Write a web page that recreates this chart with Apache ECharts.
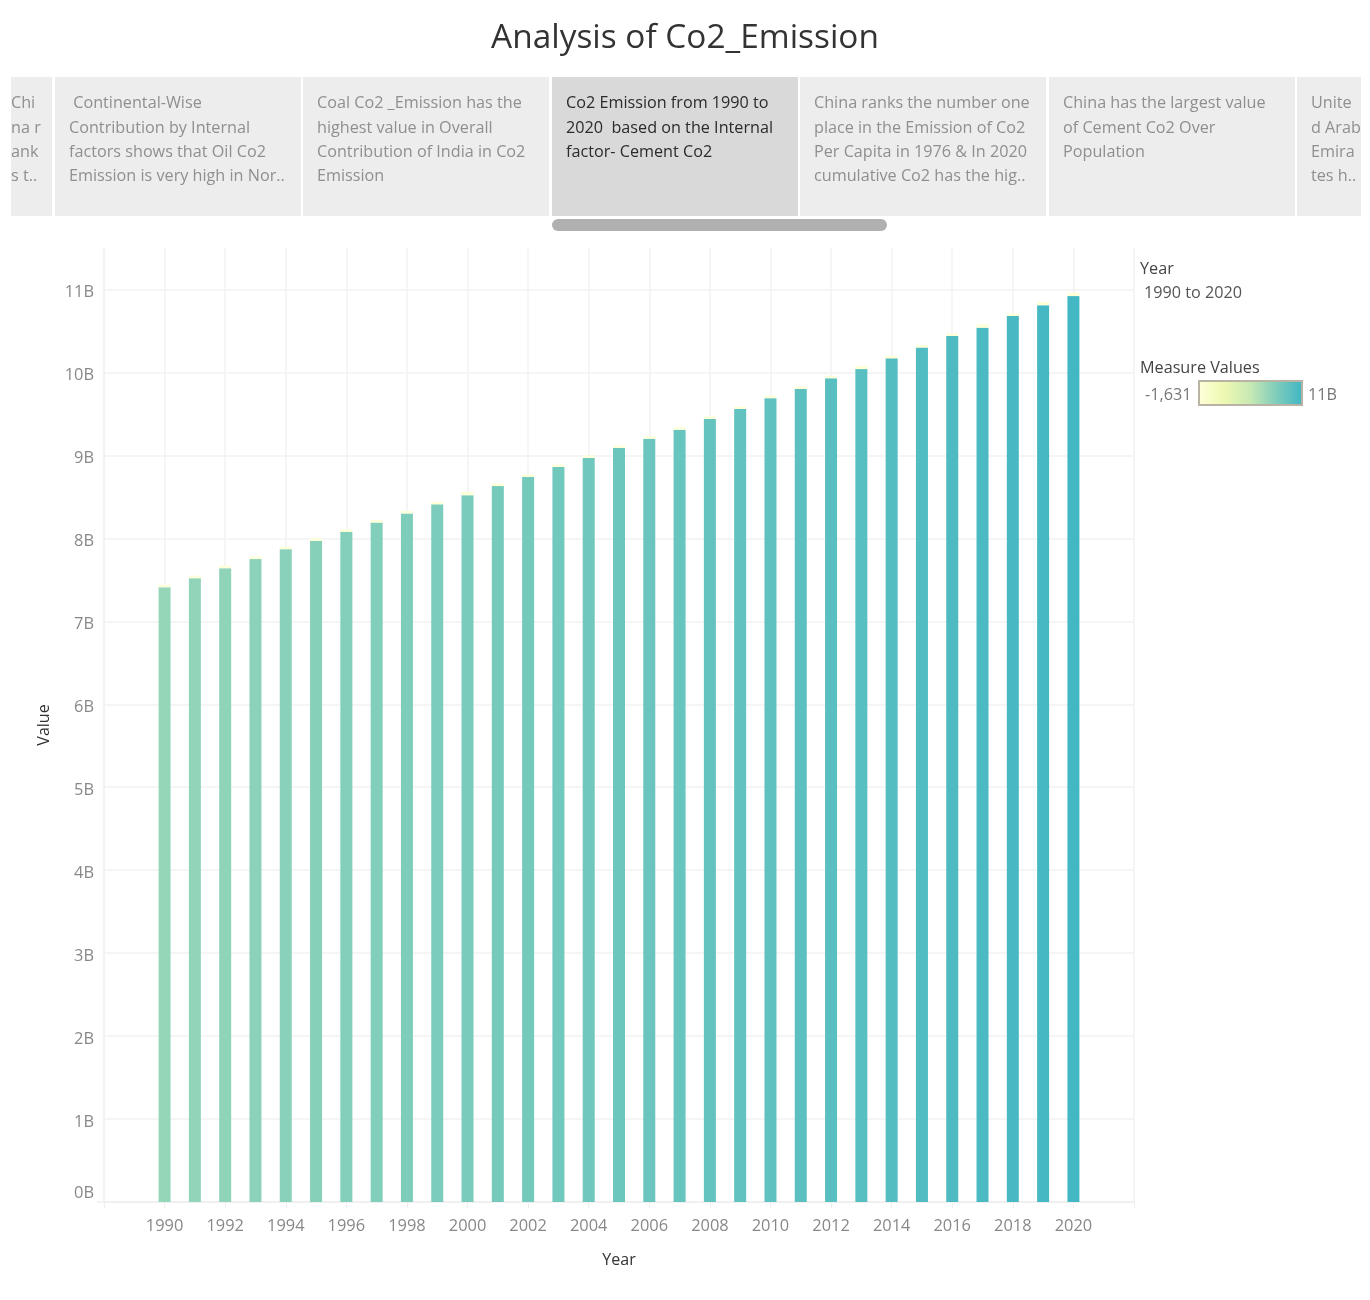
<!DOCTYPE html>
<html><head><meta charset="utf-8">
<style>html,body{margin:0;padding:0;background:#fff}#c{width:1370px;height:1300px}</style>
<script src="https://cdn.jsdelivr.net/npm/echarts@6/dist/echarts.min.js"></script>
</head><body><div id="c"></div>
<script>
const axisYears=[1988,1989,1990,1991,1992,1993,1994,1995,1996,1997,1998,1999,2000,2001,2002,2003,2004,2005,2006,2007,2008,2009,2010,2011,2012,2013,2014,2015,2016,2017,2018,2019,2020,2021,2022];
const years=[1990,1991,1992,1993,1994,1995,1996,1997,1998,1999,2000,2001,2002,2003,2004,2005,2006,2007,2008,2009,2010,2011,2012,2013,2014,2015,2016,2017,2018,2019,2020];
const mainValuesB=[7.41,7.52,7.64,7.75,7.87,7.97,8.08,8.19,8.30,8.41,8.52,8.63,8.74,8.86,8.97,9.09,9.20,9.31,9.44,9.56,9.69,9.80,9.93,10.04,10.17,10.30,10.44,10.54,10.68,10.81,10.92];
const cementValuesB=[.03,.03,.03,.03,.03,.03,.03,.03,.03,.03,.04,.03,.03,.03,.03,.03,.03,.03,.03,.03,.03,.03,.03,.04,.03,.03,.03,.04,.03,.04,.04];
const storyCards=[
 {x:11,w:41,tx:11,lines:["Chi","na r","ank","s t.."]},
 {x:55,w:246,tx:69,lines:[" Continental-Wise","Contribution by Internal","factors shows that Oil Co2","Emission is very high in Nor.."]},
 {x:303,w:246,tx:317,lines:["Coal Co2 _Emission has the","highest value in Overall","Contribution of India in Co2","Emission"]},
 {x:552,w:246,tx:566,sel:true,lines:["Co2 Emission from 1990 to","2020  based on the Internal","factor- Cement Co2"]},
 {x:800,w:246,tx:814,lines:["China ranks the number one","place in the Emission of Co2","Per Capita in 1976 & In 2020","cumulative Co2 has the hig.."]},
 {x:1049,w:246,tx:1063,lines:["China has the largest value","of Cement Co2 Over","Population"]},
 {x:1297,w:64,tx:1311,lines:["Unite","d Arab","Emira","tes h.."]}
];
const FONT='"Open Sans"';
const g=[];
storyCards.forEach(c=>{
 g.push({type:'rect',shape:{x:c.x,y:77,width:c.w,height:139},style:{fill:c.sel?'#d9d9d9':'#ededed'},silent:true});
 c.lines.forEach((t,i)=>g.push({type:'text',x:c.tx,y:103.5+i*24.4,style:{text:t,fill:c.sel?'#2b2b2b':'#8f8f8f',font:'16.2px '+FONT,verticalAlign:'middle'},silent:true}));
});
g.push({type:'rect',shape:{x:552,y:219,width:335,height:12,r:6},style:{fill:'#b0b0b0'},silent:true});
g.push({type:'line',shape:{x1:97,y1:1202,x2:104,y2:1202},style:{stroke:'#eeeeee',lineWidth:1.5},silent:true});
const side=[["Year",1140,269,'#444'],["1990 to 2020",1144,293,'#555'],["Measure Values",1140,368,'#444'],["-1,631",1145,395,'#777'],["11B",1308,395,'#777']];
side.forEach(s=>g.push({type:'text',x:s[1],y:s[2],style:{text:s[0],fill:s[3],font:'16.2px '+FONT,verticalAlign:'middle'},silent:true}));
g.push({type:'rect',z:100,shape:{x:1199,y:381,width:103,height:24},style:{fill:'none',stroke:'#b8b3a3',lineWidth:2},silent:true});
const chart=echarts.init(document.getElementById('c'),null,{renderer:'canvas'});
chart.setOption({
 animation:false,backgroundColor:'#fff',
 textStyle:{fontFamily:FONT},
 title:{text:'Analysis of Co2_Emission',left:'center',top:17,textStyle:{fontFamily:FONT,fontSize:33.4,fontWeight:'normal',color:'#333'}},
 grid:{left:104,top:248,width:1030,height:954},
 xAxis:{type:'category',data:axisYears.map(String),boundaryGap:false,name:'Year',nameLocation:'middle',nameGap:50,
  nameTextStyle:{color:'#333',fontSize:16,fontFamily:FONT},
  axisLine:{show:true,lineStyle:{color:'#f0f0f0',width:2}},
  axisTick:{show:true,length:6,interval:1,lineStyle:{color:'#eeeeee'}},
  axisLabel:{color:'#888',fontSize:16.4,margin:16,interval:1,formatter:v=>(v==='1988'||v==='2022')?'':v},
  splitLine:{show:true,interval:1,lineStyle:{color:'#f2f2f2',width:1.5}}},
 yAxis:{type:'value',min:0,max:11.5,interval:1,name:'Value',nameLocation:'middle',nameGap:52,nameRotate:90,
  nameTextStyle:{color:'#333',fontSize:16,fontFamily:FONT},
  axisLine:{show:true,lineStyle:{color:'#f0f0f0',width:1.5}},
  axisTick:{show:false},
  axisLabel:{color:'#888',fontSize:16.4,margin:10,showMaxLabel:false,
   formatter:v=>(v===0?'{z|0B}':'{n|'+v+'B}'),
   rich:{z:{color:'#888',fontSize:16.4,padding:[0,0,18,0]},n:{color:'#888',fontSize:16.4,padding:[6,0,0,0]}}},
  splitLine:{show:true,showMaxLine:false,lineStyle:{color:'#f2f2f2',width:1.6}}},
 visualMap:{type:'continuous',min:0,max:11,orient:'horizontal',left:1199,top:381,itemWidth:24,itemHeight:103,
  calculable:false,hoverLink:false,padding:0,
  inRange:{color:['#ffffd9','#edf8b1','#c7e9b4','#7fcdbb','#41b6c4']}},
 series:[
  {type:'bar',stack:'t',barWidth:12,data:years.map((y,i)=>[String(y),mainValuesB[i]]),silent:true},
  {type:'bar',stack:'t',barWidth:12,data:years.map((y,i)=>[String(y),cementValuesB[i]]),silent:true}
 ],
 graphic:{elements:g}
});
</script></body></html>
